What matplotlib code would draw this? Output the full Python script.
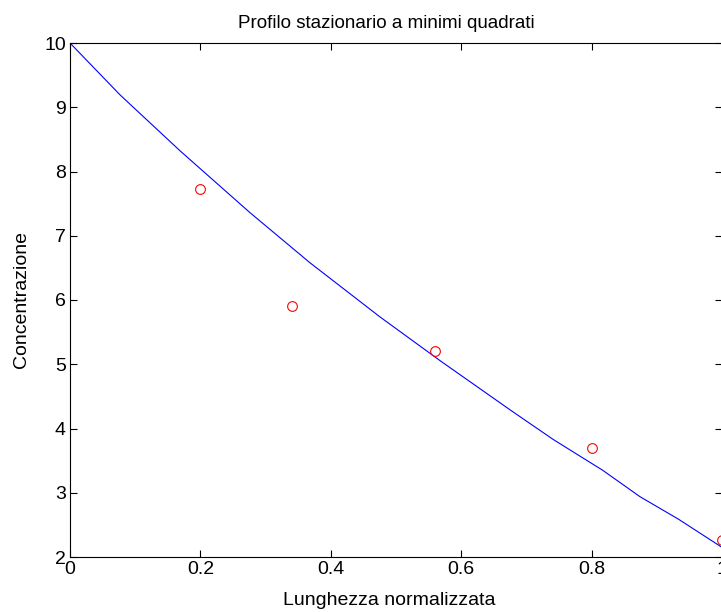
import matplotlib
matplotlib.use('Agg')
import matplotlib.pyplot as plt
import numpy as np

plt.rcParams['font.family'] = ['Liberation Sans', 'DejaVu Sans']

# profilo stazionario (curva)
x_fit = [0.0, 0.077, 0.169, 0.276, 0.368, 0.475, 0.567, 0.675, 0.741, 0.817, 0.874, 0.933, 1.0]
c_fit = [10.0, 9.19, 8.32, 7.36, 6.58, 5.74, 5.06, 4.29, 3.83, 3.35, 2.94, 2.59, 2.15]

# punti misurati
x_mis = [0.2, 0.34, 0.56, 0.8, 1.0]
c_mis = [7.73, 5.9, 5.2, 3.7, 2.27]

fig = plt.figure(figsize=(7.21, 6.12), dpi=100)
ax = fig.add_axes([70 / 721, 55 / 612, 652 / 721, 514 / 612])

ax.plot(x_fit, c_fit, color='blue', lw=0.8)
ax.plot(x_mis, c_mis, 'o', mfc='none', mec='red', ms=7, mew=0.8, clip_on=False)

ax.set_xlim(0, 1)
ax.set_ylim(2, 10)
ax.set_xticks([0, 0.2, 0.4, 0.6, 0.8, 1])
ax.set_xticklabels(['0', '0.2', '0.4', '0.6', '0.8', '1'])
ax.set_yticks(range(2, 11))
ax.tick_params(direction='in', top=True, right=True, length=5, width=0.8,
               labelsize=14, pad=3)
for s in ax.spines.values():
    s.set_linewidth(0.8)

ax.set_xlabel('Lunghezza normalizzata', fontsize=14)
ax.xaxis.set_label_coords(0.49, -0.068)
ax.set_ylabel('Concentrazione', fontsize=14, labelpad=10)
ax.set_title('Profilo stazionario a minimi quadrati', fontsize=13.5, pad=11, x=0.485)

fig.savefig('out.png', dpi=100)
